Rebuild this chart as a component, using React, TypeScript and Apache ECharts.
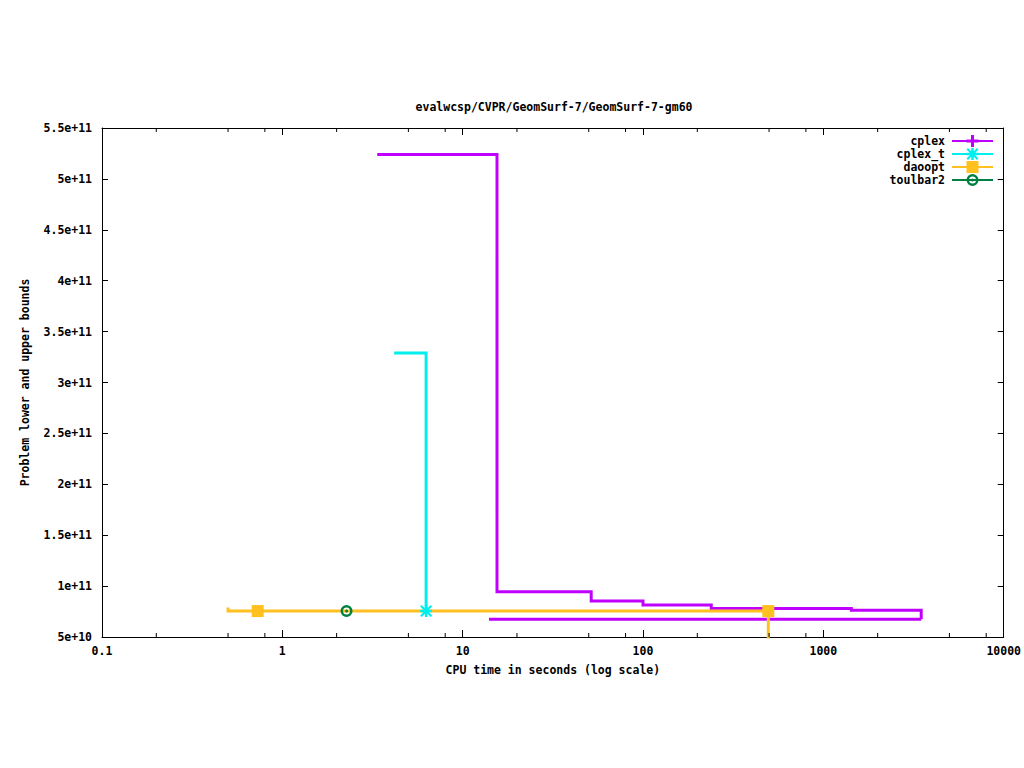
import React, { useEffect, useRef } from 'react';
import * as echarts from 'echarts';

// ---- data ----
const X_MIN = 0.1;
const X_MAX = 10000;
const Y_MIN = 5e10;
const Y_MAX = 5.5e11;
const Y_STEP = 5e10;
const xMinorTicks = [0.2, 0.5, 0.8, 2, 5, 8, 20, 50, 80, 200, 500, 800, 2000, 5000, 8000];

const cplexUbTime = [3.36, 15.5, 51.6, 100, 239, 1430, 3488, 3488];
const cplexUbValue = [5.24e11, 9.45e10, 8.54e10, 8.14e10, 7.8e10, 7.62e10, 7.62e10, 6.74e10];
const cplexLbTime = [14.0, 3488];
const cplexLbValue = [6.74e10, 6.74e10];

const cplexTTime = [4.17, 6.27];
const cplexTValue = [3.29e11, 7.55e10];
const cplexTMarked = [false, true];

const daooptTime = [0.5, 0.5, 0.73, 495, 495];
const daooptValue = [7.9e10, 7.55e10, 7.55e10, 7.55e10, 4.0e10];
const daooptMarked = [false, false, true, true, false];

const toulbar2Time = [2.27];
const toulbar2Value = [7.55e10];

const TITLE = 'evalwcsp/CVPR/GeomSurf-7/GeomSurf-7-gm60';
const X_NAME = 'CPU time in seconds (log scale)';
const Y_NAME = 'Problem lower and upper bounds';

// ---- styles ----
const FONT = 'DejaVu Sans Mono';
const FS = 11.5;
const FW = 'bold';
const BLACK = '#000000';
const C_CPLEX = '#c000ff';
const C_CPLEXT = '#00eeee';
const C_DAOOPT = '#ffc020';
const C_TOUL = '#008040';

const PLUS = 'path://M4.5,0H7.5V4.5H12V7.5H7.5V12H4.5V7.5H0V4.5H4.5Z';
const STAR =
  'path://M4.75,0H7.25V4.75H12V7.25H7.25V12H4.75V7.25H0V4.75H4.75Z M0,1.5L1.5,0L12,10.5L10.5,12Z M10.5,0L12,1.5L1.5,12L0,10.5Z';
const RING =
  'path://M6,0A6,6 0 1,1 6,12A6,6 0 1,1 6,0Z M6,2.5A3.5,3.5 0 1,0 6,9.5A3.5,3.5 0 1,0 6,2.5Z M6,4.5A1.5,1.5 0 1,1 6,7.5A1.5,1.5 0 1,1 6,4.5Z';

const pts = (xs: number[], ys: number[], marked?: boolean[]) =>
  xs.map((x, i) => (marked && marked[i] ? { value: [x, ys[i]] } : { value: [x, ys[i]], symbol: 'none' }));

const xLabel = (v: number) => (v >= 1 ? String(Math.round(v)) : String(+v.toPrecision(2)));
const yLabel = (v: number) => {
  const r = Math.round(v / 1e9) * 1e9;
  return r.toExponential();
};

const legendNames = ['cplex', 'cplex_t', 'daoopt', 'toulbar2'];

const txt = { fontFamily: FONT, fontSize: FS, fontWeight: FW, color: BLACK };

export default function App() {
  const ref = useRef<HTMLDivElement>(null);

  useEffect(() => {
    if (!ref.current) return;
    const chart = echarts.init(ref.current, undefined, { renderer: 'svg' });

    const axisCommon = {
      axisLine: { show: true, onZero: false, lineStyle: { color: BLACK, width: 1 } },
      splitLine: { show: false },
    };

    // minor ticks at 2, 5, 8 of each decade, pointing inward from bottom and top edges
    const minorTickSeries = (edge: number, offset: number, id: string) => ({
      type: 'line',
      name: 'minorTicks-' + id,
      silent: true,
      clip: false,
      xAxisIndex: 0,
      yAxisIndex: 0,
      data: xMinorTicks.map((v) => [v, edge]),
      symbol: 'rect',
      symbolSize: [1, 4],
      symbolOffset: [0, offset],
      showSymbol: true,
      showAllSymbol: true,
      lineStyle: { opacity: 0 },
      itemStyle: { color: BLACK },
      z: 5,
    });

    const option: any = {
      animation: false,
      backgroundColor: '#ffffff',
      textStyle: { fontFamily: FONT, fontSize: FS, color: BLACK },
      grid: { left: 102, right: 18, top: 128, bottom: 131, containLabel: false },
      graphic: [
        {
          type: 'text',
          x: 554,
          y: 107,
          style: {
            text: TITLE,
            fontFamily: FONT,
            fontSize: FS,
            fontWeight: FW,
            fill: BLACK,
            textAlign: 'center',
            textVerticalAlign: 'middle',
            align: 'center',
            verticalAlign: 'middle',
          },
        },
      ],
      legend: legendNames.map((n, i) => ({
        data: [n],
        orient: 'vertical',
        align: 'right',
        right: 30,
        top: 135 + i * 13,
        itemWidth: 41,
        itemHeight: 15,
        itemGap: 0,
        padding: 0,
        selectedMode: false,
        textStyle: { ...txt, padding: [0, 2, 0, 0] },
      })),
      xAxis: [
        {
          type: 'log',
          logBase: 10,
          min: X_MIN,
          max: X_MAX,
          position: 'bottom',
          ...axisCommon,
          axisTick: { show: true, inside: true, length: 7, lineStyle: { color: BLACK } },
          axisLabel: { show: true, margin: 8, ...txt, formatter: xLabel },
          name: X_NAME,
          nameLocation: 'middle',
          nameGap: 27,
          nameTextStyle: txt,
        },
        {
          type: 'log',
          logBase: 10,
          min: X_MIN,
          max: X_MAX,
          position: 'top',
          ...axisCommon,
          axisTick: { show: true, inside: true, length: 7, lineStyle: { color: BLACK } },
          axisLabel: { show: false },
        },
      ],
      yAxis: [
        {
          type: 'value',
          min: Y_MIN,
          max: Y_MAX,
          interval: Y_STEP,
          position: 'left',
          ...axisCommon,
          axisTick: { show: true, inside: true, length: 6, lineStyle: { color: BLACK } },
          axisLabel: { show: true, margin: 10, ...txt, formatter: yLabel },
          name: Y_NAME,
          nameLocation: 'middle',
          nameGap: 71,
          nameTextStyle: txt,
        },
        {
          type: 'value',
          min: Y_MIN,
          max: Y_MAX,
          interval: Y_STEP,
          position: 'right',
          ...axisCommon,
          axisTick: { show: true, inside: true, length: 6, lineStyle: { color: BLACK } },
          axisLabel: { show: false },
        },
      ],
      series: [
        minorTickSeries(Y_MIN, -2, 'bottom'),
        minorTickSeries(Y_MAX, 2, 'top'),
        {
          name: 'cplex',
          type: 'line',
          step: 'end',
          data: pts(cplexUbTime, cplexUbValue),
          symbol: PLUS,
          symbolSize: 12,
          lineStyle: { color: C_CPLEX, width: 3, join: 'miter' },
          itemStyle: { color: C_CPLEX },
        },
        {
          name: 'cplex lower bound',
          type: 'line',
          data: pts(cplexLbTime, cplexLbValue),
          symbol: 'none',
          lineStyle: { color: C_CPLEX, width: 3 },
          itemStyle: { color: C_CPLEX },
        },
        {
          name: 'cplex_t',
          type: 'line',
          step: 'end',
          data: pts(cplexTTime, cplexTValue, cplexTMarked),
          symbol: STAR,
          symbolSize: 12,
          lineStyle: { color: C_CPLEXT, width: 3, join: 'miter' },
          itemStyle: { color: C_CPLEXT },
        },
        {
          name: 'daoopt',
          type: 'line',
          step: 'end',
          data: pts(daooptTime, daooptValue, daooptMarked),
          symbol: 'rect',
          symbolSize: 12,
          lineStyle: { color: C_DAOOPT, width: 3, join: 'miter' },
          itemStyle: { color: C_DAOOPT },
        },
        {
          name: 'toulbar2',
          type: 'line',
          data: pts(toulbar2Time, toulbar2Value, [true]),
          symbol: RING,
          symbolSize: 12,
          lineStyle: { color: C_TOUL, width: 3 },
          itemStyle: { color: C_TOUL },
        },
      ],
    };

    chart.setOption(option);
    return () => chart.dispose();
  }, []);

  return (
    <div
      ref={ref}
      style={{ position: 'absolute', left: 0, top: 0, width: 1024, height: 768, background: '#fff' }}
    />
  );
}
